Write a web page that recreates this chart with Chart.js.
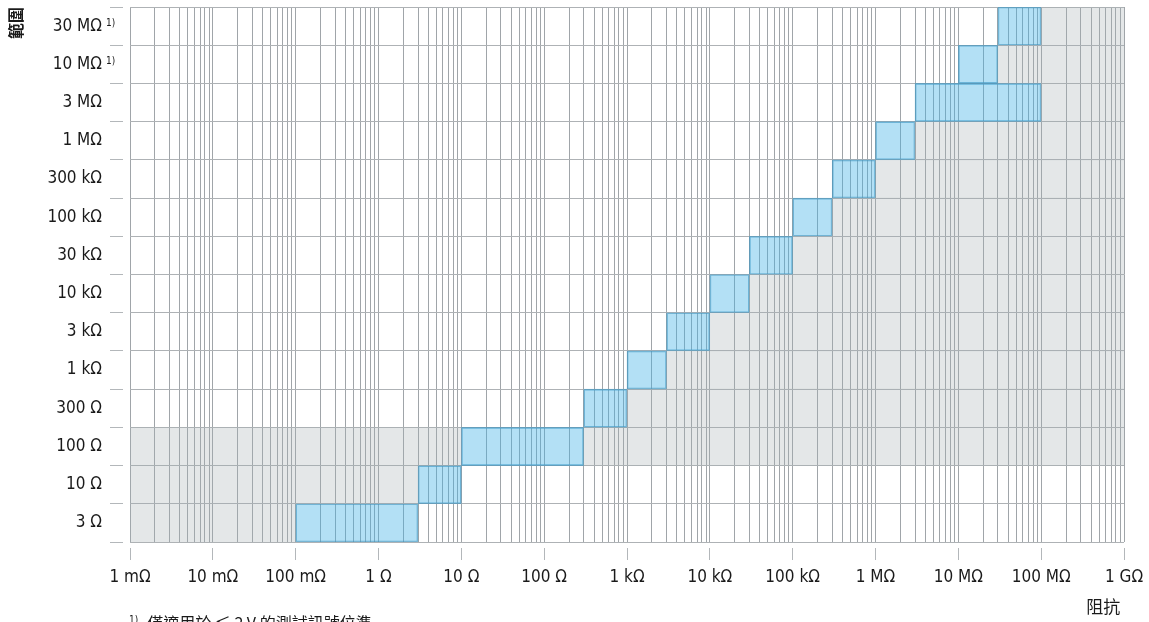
<!DOCTYPE html>
<html>
<head>
<meta charset="utf-8">
<script src="https://cdn.jsdelivr.net/npm/chart.js@4/dist/chart.umd.min.js"></script>
<style>
  html, body { margin: 0; padding: 0; background: #fff; overflow: hidden; }
  #wrap { position: relative; width: 1149px; height: 622px; }
  #note {
    position: absolute; left: 129px; top: 614px; white-space: nowrap;
    font: 16px 'Noto Sans CJK TC', sans-serif; line-height: 1; color: #1a1a1a;
  }
  #note .fn { font: 10px 'DejaVu Sans Condensed', sans-serif; vertical-align: top; margin-right: 9px; }
</style>
</head>
<body>
<div id="wrap">
  <canvas id="chart" width="1149" height="622"></canvas>
  <div id="note"><span class="fn">1)</span>僅適用於 ≤ 2 V 的測試訊號位準</div>
</div>
<script>
// Measurement ranges, top to bottom
const ranges = ['30 MΩ', '10 MΩ', '3 MΩ', '1 MΩ', '300 kΩ', '100 kΩ', '30 kΩ', '10 kΩ',
                '3 kΩ', '1 kΩ', '300 Ω', '100 Ω', '10 Ω', '3 Ω'];
// Ranges carrying footnote 1)
const footnoted = ['30 MΩ', '10 MΩ'];

// Impedance span (Ω) with best accuracy for each range
const accurateSpan = [
  [30e6, 100e6], [10e6, 30e6], [3e6, 100e6], [1e6, 3e6], [300e3, 1e6], [100e3, 300e3],
  [30e3, 100e3], [10e3, 30e3], [3e3, 10e3], [1e3, 3e3], [300, 1e3], [10, 300], [3, 10], [0.1, 3]
];
// Extended span (Ω) below the accurate span
const extendedBelow = [
  null, null, null, null, null, null, null, null, null, null, null,
  [1e-3, 10], [1e-3, 3], [1e-3, 0.1]
];
// Extended span (Ω) above the accurate span
const extendedAbove = [
  [100e6, 1e9], [30e6, 1e9], [100e6, 1e9], [3e6, 1e9], [1e6, 1e9], [300e3, 1e9],
  [100e3, 1e9], [30e3, 1e9], [10e3, 1e9], [3e3, 1e9], [1e3, 1e9], [300, 1e9], null, null
];

// Impedance axis
const axisMin = 1e-3;
const axisMax = 1e9;
const decadeLabels = ['1 mΩ', '10 mΩ', '100 mΩ', '1 Ω', '10 Ω', '100 Ω', '1 kΩ', '10 kΩ',
                      '100 kΩ', '1 MΩ', '10 MΩ', '100 MΩ', '1 GΩ'];
const gridMultipliers = [1, 2, 3, 4, 5, 6, 7, 8, 9];

const textFont = "'DejaVu Sans Condensed', 'Liberation Sans Narrow', sans-serif";
const textColor = '#1a1a1a';

// Log grid: 1..9 in every decade from 1 mΩ up to 1 GΩ
const gridValues = [];
for (let e = -3; e < 9; e++) {
  gridMultipliers.forEach(m => gridValues.push(Number((m * Math.pow(10, e)).toPrecision(12))));
}
gridValues.push(axisMax);
const isDecade = v => Math.abs(Math.log10(v) - Math.round(Math.log10(v))) < 1e-9;

// Superscript footnote marks beside the range labels
const footnoteMarks = {
  id: 'footnoteMarks',
  afterDraw(chart) {
    const y = chart.scales.y;
    const ctx = chart.ctx;
    ctx.save();
    ctx.font = '10px ' + textFont;
    ctx.fillStyle = textColor;
    ctx.textAlign = 'left';
    ctx.textBaseline = 'top';
    ranges.forEach((r, i) => {
      if (footnoted.includes(r)) {
        const opts = y.options;
        const x = y.right - opts.grid.tickLength - opts.ticks.padding + 4;
        ctx.fillText('1)', x, y.getPixelForTick(i) - 8);
      }
    });
    ctx.restore();
  }
};

new Chart(document.getElementById('chart'), {
  type: 'bar',
  data: {
    labels: ranges,
    datasets: [
      {
        data: extendedBelow,
        backgroundColor: 'rgba(165,175,178,0.3)',
        borderWidth: 0
      },
      {
        data: extendedAbove,
        backgroundColor: 'rgba(165,175,178,0.3)',
        borderWidth: 0
      },
      {
        data: accurateSpan,
        backgroundColor: 'rgba(65,177,230,0.4)',
        borderColor: 'rgba(70,150,190,0.7)',
        borderWidth: 1
      }
    ]
  },
  options: {
    indexAxis: 'y',
    responsive: false,
    animation: false,
    events: [],
    datasets: {
      bar: {
        grouped: false,
        barPercentage: 1,
        categoryPercentage: 1,
        borderSkipped: false
      }
    },
    layout: { padding: { top: 7, right: 25, bottom: 0, left: 0 } },
    plugins: { legend: { display: false }, tooltip: { enabled: false } },
    scales: {
      x: {
        type: 'logarithmic',
        position: 'bottom',
        min: axisMin,
        max: axisMax,
        afterBuildTicks(scale) {
          scale.ticks = gridValues.map(v => ({ value: v, major: isDecade(v) }));
        },
        afterFit(scale) {
          scale.height = 80;
          scale.paddingLeft = 0;
          scale.paddingRight = 0;
        },
        border: { display: false },
        grid: {
          color: '#a0a5a9',
          lineWidth: 1,
          tickLength: 18,
          tickBorderDash: [12, 6],
          tickBorderDashOffset: 12,
          tickColor: ctx => (ctx.tick && isDecade(ctx.tick.value)) ? '#b3b7ba' : 'rgba(0,0,0,0)'
        },
        ticks: {
          autoSkip: false,
          maxRotation: 0,
          padding: 7,
          color: textColor,
          font: { family: textFont, size: 17 },
          callback: v => isDecade(v) ? decadeLabels[Math.round(Math.log10(v)) + 3] : ''
        },
        title: {
          display: true,
          text: '阻抗 ',
          align: 'end',
          color: textColor,
          font: { family: "'Noto Sans CJK TC', sans-serif", size: 17 },
          padding: { top: 0, bottom: 5 }
        }
      },
      y: {
        type: 'category',
        afterFit(scale) {
          scale.width = 130;
          scale.paddingTop = 0;
          scale.paddingBottom = 0;
        },
        border: { display: false },
        grid: {
          offset: true,
          color: '#aeb2b5',
          lineWidth: 1,
          tickLength: 20,
          tickBorderDash: [13, 7],
          tickColor: '#b3b7ba'
        },
        ticks: {
          padding: 8,
          color: textColor,
          font: { family: textFont, size: 17 }
        },
        title: {
          display: true,
          text: '範圍',
          align: 'end',
          color: textColor,
          font: { family: "'Noto Sans CJK TC', sans-serif", size: 16, weight: 'bold' },
          padding: { top: 6, bottom: 0 }
        }
      }
    }
  },
  plugins: [footnoteMarks]
});
</script>
</body>
</html>
